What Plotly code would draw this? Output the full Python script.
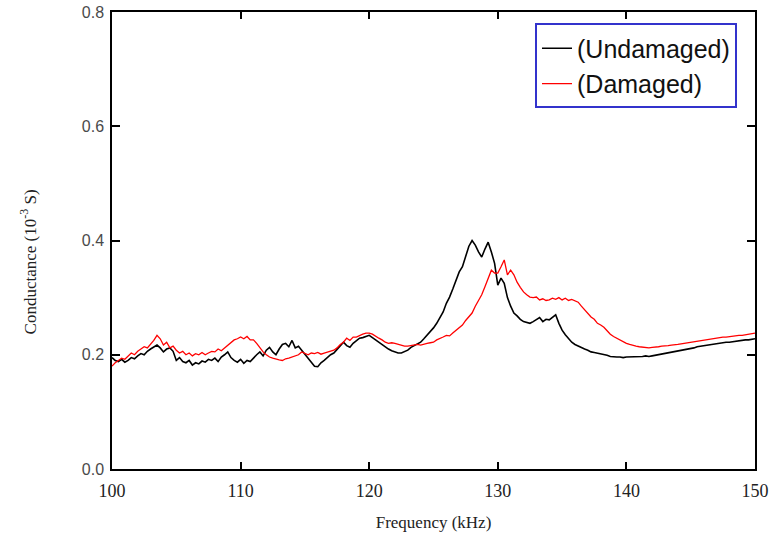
import numpy as np
import plotly.graph_objects as go

# Frequency grid (kHz), 0.25 kHz spacing from 100 to 150
freq_start = 100.0
freq_step = 0.25

undamaged = [
    0.195, 0.190, 0.188, 0.192,  # 100
    0.187, 0.190, 0.195, 0.193,  # 101
    0.198, 0.202, 0.200, 0.206,  # 102
    0.210, 0.214, 0.217, 0.212,  # 103
    0.205, 0.210, 0.212, 0.206,  # 104
    0.190, 0.195, 0.188, 0.186,  # 105
    0.190, 0.182, 0.186, 0.184,  # 106
    0.189, 0.187, 0.192, 0.190,  # 107
    0.194, 0.188, 0.196, 0.200,  # 108
    0.205, 0.195, 0.190, 0.187,  # 109
    0.192, 0.185, 0.190, 0.188,  # 110
    0.195, 0.200, 0.205, 0.198,  # 111
    0.208, 0.213, 0.205, 0.200,  # 112
    0.210, 0.218, 0.220, 0.214,  # 113
    0.225, 0.212, 0.215, 0.208,  # 114
    0.200, 0.195, 0.188, 0.180,  # 115
    0.179, 0.186, 0.190, 0.195,  # 116
    0.200, 0.203, 0.210, 0.215,  # 117
    0.222, 0.216, 0.213, 0.220,  # 118
    0.225, 0.229, 0.230, 0.232,  # 119
    0.234, 0.230, 0.226, 0.222,  # 120
    0.218, 0.213, 0.210, 0.207,  # 121
    0.205, 0.203, 0.203, 0.205,  # 122
    0.208, 0.213, 0.216, 0.218,  # 123
    0.222, 0.228, 0.234, 0.240,  # 124
    0.247, 0.255, 0.265, 0.275,  # 125
    0.290, 0.301, 0.315, 0.330,  # 126
    0.345, 0.354, 0.372, 0.390,  # 127
    0.400, 0.392, 0.380, 0.371,  # 128
    0.385, 0.397, 0.380, 0.360,  # 129
    0.322, 0.334, 0.325, 0.300,  # 130
    0.285, 0.273, 0.268, 0.262,  # 131
    0.258, 0.256, 0.255, 0.258,  # 132
    0.261, 0.265, 0.258, 0.262,  # 133
    0.261, 0.266, 0.270, 0.255,  # 134
    0.243, 0.235, 0.228, 0.222,  # 135
    0.218, 0.215, 0.212, 0.210,  # 136
    0.208, 0.205, 0.204, 0.203,  # 137
    0.202, 0.200, 0.199, 0.197,  # 138
    0.196, 0.196, 0.196, 0.195,  # 139
    0.196, 0.196, 0.197, 0.196,  # 140
    0.197, 0.197, 0.198, 0.197,  # 141
    0.198, 0.199, 0.200, 0.201,  # 142
    0.202, 0.203, 0.205, 0.206,  # 143
    0.207, 0.208, 0.209, 0.210,  # 144
    0.210, 0.212, 0.214, 0.215,  # 145
    0.216, 0.217, 0.218, 0.219,  # 146
    0.220, 0.220, 0.221, 0.222,  # 147
    0.222, 0.223, 0.223, 0.224,  # 148
    0.225, 0.226, 0.226, 0.227,  # 149
    0.228,                       # 150
]

damaged = [
    0.180, 0.186, 0.190, 0.194,  # 100
    0.192, 0.198, 0.203, 0.200,  # 101
    0.206, 0.210, 0.214, 0.212,  # 102
    0.218, 0.225, 0.234, 0.228,  # 103
    0.217, 0.222, 0.212, 0.215,  # 104
    0.208, 0.203, 0.206, 0.200,  # 105
    0.203, 0.198, 0.202, 0.200,  # 106
    0.204, 0.200, 0.203, 0.206,  # 107
    0.205, 0.210, 0.207, 0.212,  # 108
    0.217, 0.222, 0.226, 0.228,  # 109
    0.231, 0.228, 0.232, 0.226,  # 110
    0.226, 0.220, 0.212, 0.205,  # 111
    0.200, 0.196, 0.194, 0.192,  # 112
    0.191, 0.190, 0.193, 0.194,  # 113
    0.196, 0.198, 0.200, 0.205,  # 114
    0.203, 0.200, 0.203, 0.202,  # 115
    0.204, 0.201, 0.203, 0.205,  # 116
    0.206, 0.208, 0.212, 0.218,  # 117
    0.222, 0.229, 0.225, 0.231,  # 118
    0.231, 0.234, 0.236, 0.238,  # 119
    0.238, 0.236, 0.232, 0.229,  # 120
    0.226, 0.222, 0.220, 0.221,  # 121
    0.220, 0.218, 0.216, 0.215,  # 122
    0.215, 0.216, 0.217, 0.218,  # 123
    0.217, 0.219, 0.220, 0.221,  # 124
    0.222, 0.226, 0.228, 0.231,  # 125
    0.234, 0.233, 0.238, 0.243,  # 126
    0.247, 0.252, 0.260, 0.266,  # 127
    0.273, 0.285, 0.296, 0.305,  # 128
    0.319, 0.335, 0.348, 0.343,  # 129
    0.343, 0.354, 0.366, 0.340,  # 130
    0.348, 0.340, 0.327, 0.318,  # 131
    0.310, 0.305, 0.301, 0.300,  # 132
    0.301, 0.296, 0.298, 0.295,  # 133
    0.296, 0.299, 0.297, 0.300,  # 134
    0.296, 0.299, 0.295, 0.297,  # 135
    0.294, 0.292, 0.285, 0.278,  # 136
    0.272, 0.266, 0.262, 0.255,  # 137
    0.252, 0.248, 0.242, 0.236,  # 138
    0.232, 0.229, 0.226, 0.222,  # 139
    0.220, 0.218, 0.216, 0.215,  # 140
    0.214, 0.213, 0.213, 0.212,  # 141
    0.213, 0.213, 0.214, 0.215,  # 142
    0.215, 0.216, 0.217, 0.217,  # 143
    0.218, 0.219, 0.220, 0.221,  # 144
    0.222, 0.223, 0.224, 0.225,  # 145
    0.226, 0.227, 0.228, 0.229,  # 146
    0.229, 0.230, 0.231, 0.231,  # 147
    0.232, 0.232, 0.233, 0.234,  # 148
    0.234, 0.235, 0.236, 0.237,  # 149
    0.238,                       # 150
]

x_tick_vals = [100, 110, 120, 130, 140, 150]
y_tick_vals = [0.0, 0.2, 0.4, 0.6, 0.8]

freq = freq_start + freq_step * np.arange(len(undamaged))

fig = go.Figure()
fig.add_trace(go.Scatter(x=freq, y=undamaged, mode="lines", name="(Undamaged)",
                         line=dict(color="#000000", width=1.6)))
fig.add_trace(go.Scatter(x=freq, y=damaged, mode="lines", name="(Damaged)",
                         line=dict(color="#ff0000", width=1.3)))

serif = "Liberation Serif, Times New Roman, serif"
sans = "Liberation Sans, Arial, sans-serif"

fig.update_layout(
    width=774, height=541,
    margin=dict(l=112, r=19, t=12, b=72),
    paper_bgcolor="white", plot_bgcolor="white",
    xaxis=dict(
        range=[100, 150], tickvals=x_tick_vals, automargin=False,
        ticks="inside", ticklen=7, tickwidth=1.5, tickcolor="black",
        showline=True, linecolor="black", linewidth=1.5, mirror="ticks",
        showgrid=False, zeroline=False,
        tickfont=dict(family=serif, size=18, color="#222222"),
        ticklabelstandoff=5,
        title=dict(text="Frequency (kHz)", font=dict(family=serif, size=17, color="#222222"),
                   standoff=16),
    ),
    yaxis=dict(
        range=[0, 0.8], tickvals=y_tick_vals, tickformat=".1f", automargin=False,
        ticks="inside", ticklen=8, tickwidth=1.5, tickcolor="black",
        showline=True, linecolor="black", linewidth=1.5, mirror="ticks",
        showgrid=False, zeroline=False,
        tickfont=dict(family=sans, size=16, color="#4a4a4a"),
        ticklabelstandoff=3,
    ),
    legend=dict(
        x=0.972, y=0.975, xanchor="right", yanchor="top",
        font=dict(family=sans, size=25, color="#111111"),
        bordercolor="#3333cc", borderwidth=2, bgcolor="white",
        tracegroupgap=0, itemwidth=30,
    ),
    annotations=[dict(
        text="Conductance (10<sup>-3</sup> S)", xref="paper", yref="paper",
        x=-0.13, y=0.453, xanchor="center", yanchor="middle", textangle=-90,
        showarrow=False, font=dict(family=serif, size=17, color="#222222"),
    )],
)

fig.write_html("out.html")
